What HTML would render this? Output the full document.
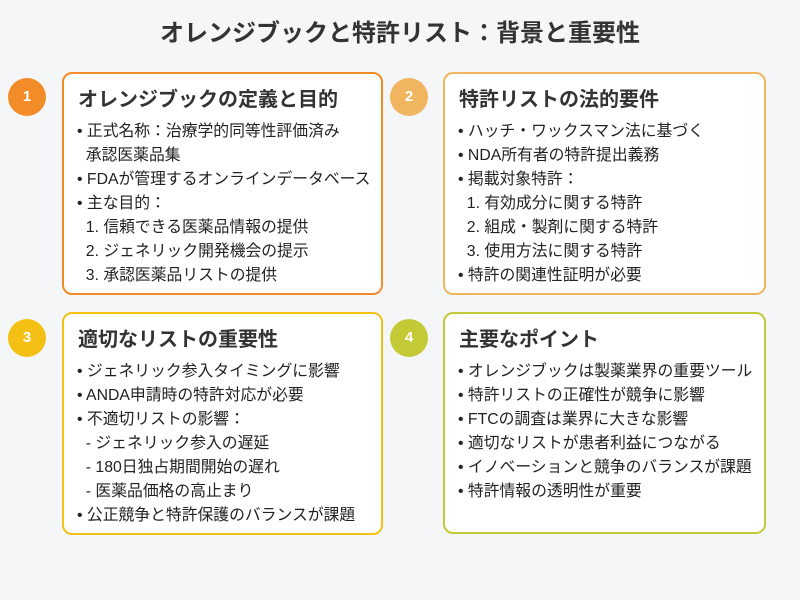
<!DOCTYPE html>
<html><head><meta charset="utf-8"><style>
body{margin:0;width:800px;height:600px;background:#f5f6f8;font-family:"Liberation Sans","Noto Sans CJK JP",sans-serif;color:#222;position:relative;overflow:hidden}
.t{position:absolute;left:0;width:800px;top:13px;text-align:center;font-size:24px;font-weight:bold;color:#333}
.c{position:absolute;width:38px;height:38px;border-radius:50%;color:#fff;font-weight:bold;font-size:15px;text-align:center;line-height:38px}
.b{position:absolute;width:318px;height:218px;border:2px solid;border-radius:10px;background:#fff;box-sizing:border-box}
.h{position:absolute;left:14px;top:9px;font-size:20px;font-weight:bold;color:#333}
.l{position:absolute;left:13px;font-size:15.8px;white-space:nowrap;color:#222}
</style></head><body>
<div class="t">オレンジブックと特許リスト：背景と重要性</div>

<div class="c" style="left:8px;top:78px;background:#f28c28">1</div>
<div class="b" style="left:62px;top:72px;width:321px;height:223px;border-color:#f28c28">
<div class="h">オレンジブックの定義と目的</div>
<div class="l" style="top:44px">• 正式名称：治療学的同等性評価済み</div>
<div class="l" style="top:68px">&nbsp;&nbsp;承認医薬品集</div>
<div class="l" style="top:92px">• FDAが管理するオンラインデータベース</div>
<div class="l" style="top:116px">• 主な目的：</div>
<div class="l" style="top:140px">&nbsp;&nbsp;1. 信頼できる医薬品情報の提供</div>
<div class="l" style="top:164px">&nbsp;&nbsp;2. ジェネリック開発機会の提示</div>
<div class="l" style="top:188px">&nbsp;&nbsp;3. 承認医薬品リストの提供</div>
</div>

<div class="c" style="left:390px;top:78px;background:#f0b55e">2</div>
<div class="b" style="left:443px;top:72px;width:323px;height:223px;border-color:#f0b55e">
<div class="h">特許リストの法的要件</div>
<div class="l" style="top:44px">• ハッチ・ワックスマン法に基づく</div>
<div class="l" style="top:68px">• NDA所有者の特許提出義務</div>
<div class="l" style="top:92px">• 掲載対象特許：</div>
<div class="l" style="top:116px">&nbsp;&nbsp;1. 有効成分に関する特許</div>
<div class="l" style="top:140px">&nbsp;&nbsp;2. 組成・製剤に関する特許</div>
<div class="l" style="top:164px">&nbsp;&nbsp;3. 使用方法に関する特許</div>
<div class="l" style="top:188px">• 特許の関連性証明が必要</div>
</div>

<div class="c" style="left:8px;top:319px;background:#f5c014">3</div>
<div class="b" style="left:62px;top:312px;width:321px;height:223px;border-color:#f5c014">
<div class="h">適切なリストの重要性</div>
<div class="l" style="top:44px">• ジェネリック参入タイミングに影響</div>
<div class="l" style="top:68px">• ANDA申請時の特許対応が必要</div>
<div class="l" style="top:92px">• 不適切リストの影響：</div>
<div class="l" style="top:116px">&nbsp;&nbsp;- ジェネリック参入の遅延</div>
<div class="l" style="top:140px">&nbsp;&nbsp;- 180日独占期間開始の遅れ</div>
<div class="l" style="top:164px">&nbsp;&nbsp;- 医薬品価格の高止まり</div>
<div class="l" style="top:188px">• 公正競争と特許保護のバランスが課題</div>
</div>

<div class="c" style="left:390px;top:319px;background:#c4c936">4</div>
<div class="b" style="left:443px;top:312px;width:323px;height:222px;border-color:#c4c936">
<div class="h">主要なポイント</div>
<div class="l" style="top:44px">• オレンジブックは製薬業界の重要ツール</div>
<div class="l" style="top:68px">• 特許リストの正確性が競争に影響</div>
<div class="l" style="top:92px">• FTCの調査は業界に大きな影響</div>
<div class="l" style="top:116px">• 適切なリストが患者利益につながる</div>
<div class="l" style="top:140px">• イノベーションと競争のバランスが課題</div>
<div class="l" style="top:164px">• 特許情報の透明性が重要</div>
</div>
</body></html>
